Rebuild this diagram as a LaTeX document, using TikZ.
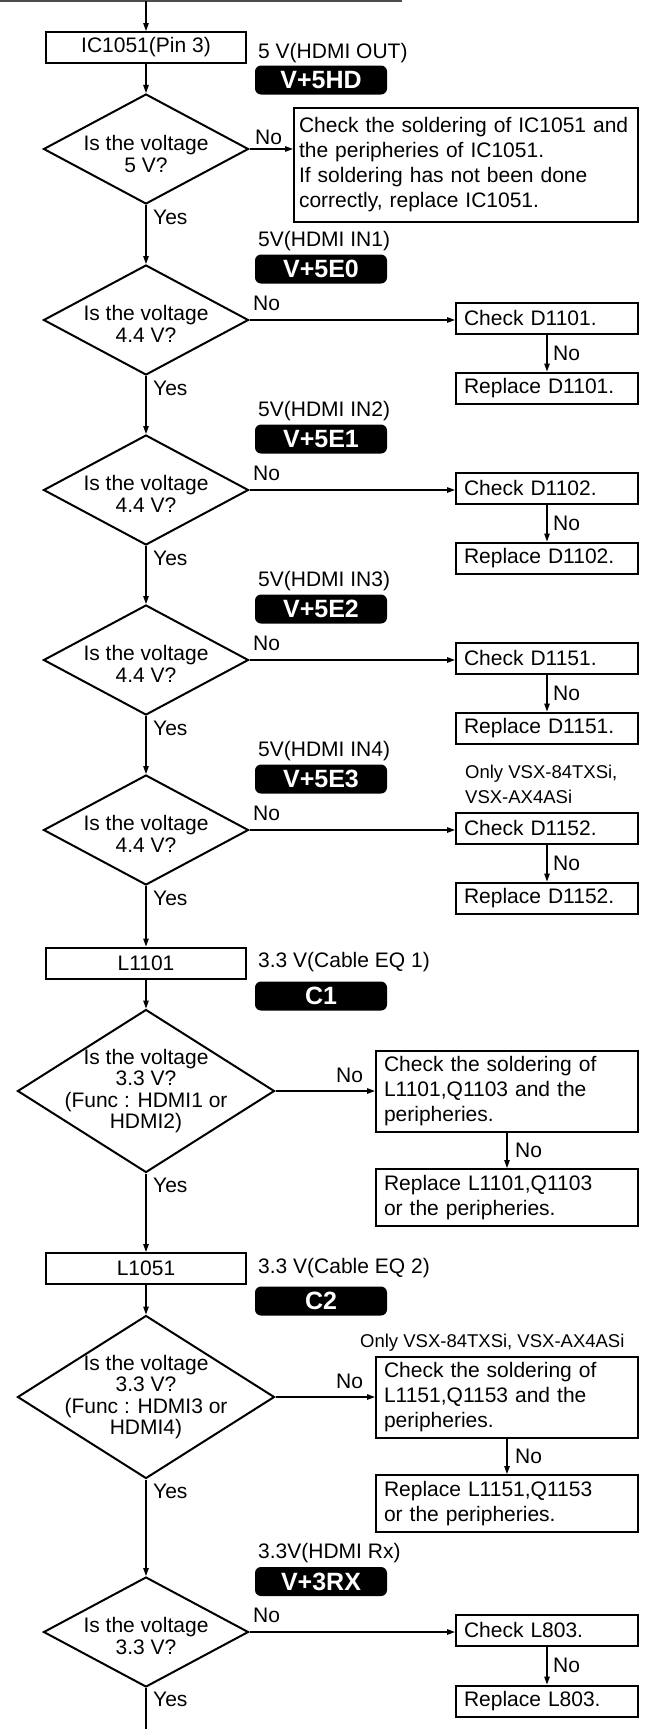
\documentclass[tikz,border=0pt]{standalone}
\usepackage{fontspec}
\setmainfont{Liberation Sans}
\usetikzlibrary{arrows.meta, shapes.geometric}

\begin{document}
\begin{tikzpicture}[x=1pt, y=-1pt, font=\fontsize{21}{25}\selectfont,
  >={Triangle[length=8pt, width=5.5pt]},
  bx/.style={draw, line width=2pt, inner xsep=8pt, inner ysep=0pt, align=left},
  chk/.style={bx, text width=166pt, minimum height=31pt},
  chkw/.style={bx, text width=246pt},
  src/.style={draw, line width=2pt, minimum width=200pt, minimum height=31pt, inner sep=0pt},
  dia/.style={diamond, draw, line width=2pt, inner sep=0pt,
              minimum width=205pt, minimum height=110pt},
  diab/.style={dia, minimum width=257pt, minimum height=163pt},
  dtx/.style={align=center, inner sep=0pt, font=\fontsize{21}{21.5}\selectfont},
  tag/.style={fill=black, rounded corners=6pt, text=white, inner sep=0pt,
              minimum width=132pt, minimum height=29pt,
              font=\fontsize{25}{25}\selectfont\bfseries},
  lbl/.style={anchor=west, inner sep=0pt},
  note/.style={lbl, align=left, font=\fontsize{18.5}{25}\selectfont},
  s/.style={->, line width=1.2pt}]
\useasboundingbox (0,0) rectangle (659,1729);
% entry line
\coordinate (topl) at (0,1);
\coordinate (topr) at (402,1);
\coordinate (top) at (146,1);
\draw[line width=1.2pt, black!70] (topl) -- (topr);
% 5 V HDMI out
\node[src] (ic) at (146,47.5) {IC1051(Pin 3)};
\node[lbl] (vout) at (258,53) {5 V(HDMI OUT)};
\node[tag] (t0) at (321,80) {V+5HD};
\node[dia] (q1) at (146,149) {};
\node[dtx] (q1t) at (146,154) {Is the voltage\\5 V?};
\node[lbl] (n1) at (255,137) {No};
\node[bx, inner xsep=5pt, text width=334pt, minimum height=114pt] (b1) at (466,165)
  {Check the soldering of IC1051 and\\the peripheries of IC1051.\\If soldering has not been done\\correctly, replace IC1051.};
\node[lbl] (y1) at (153,217) {Yes};
% HDMI IN1
\node[lbl] (in1) at (258,241) {5V(HDMI IN1)};
\node[tag] (t1) at (321,269) {V+5E0};
\node[dia] (q2) at (146,320) {};
\node[dtx] (q2t) at (146,324) {Is the voltage\\4.4 V?};
\node[lbl] (n2) at (253,303) {No};
\node[chk] (c2) at (547,318) {Check D1101.};
\node[chk] (r2) at (547,388) {Replace D1101.};
\node[lbl] (m2) at (553,353) {No};
\node[lbl] (y2) at (153,388) {Yes};
% HDMI IN2
\node[lbl] (in2) at (258,411) {5V(HDMI IN2)};
\node[tag] (t2) at (321,439) {V+5E1};
\node[dia] (q3) at (146,490) {};
\node[dtx] (q3t) at (146,494) {Is the voltage\\4.4 V?};
\node[lbl] (n3) at (253,473) {No};
\node[chk] (c3) at (547,488) {Check D1102.};
\node[chk] (r3) at (547,558) {Replace D1102.};
\node[lbl] (m3) at (553,523) {No};
\node[lbl] (y3) at (153,558) {Yes};
% HDMI IN3
\node[lbl] (in3) at (258,581) {5V(HDMI IN3)};
\node[tag] (t3) at (321,609) {V+5E2};
\node[dia] (q4) at (146,660) {};
\node[dtx] (q4t) at (146,664) {Is the voltage\\4.4 V?};
\node[lbl] (n4) at (253,643) {No};
\node[chk] (c4) at (547,658) {Check D1151.};
\node[chk] (r4) at (547,728) {Replace D1151.};
\node[lbl] (m4) at (553,693) {No};
\node[lbl] (y4) at (153,728) {Yes};
% HDMI IN4
\node[lbl] (in4) at (258,751) {5V(HDMI IN4)};
\node[tag] (t4) at (321,779) {V+5E3};
\node[note] (o4) at (465,784.5) {Only VSX-84TXSi,\\VSX-AX4ASi};
\node[dia] (q5) at (146,830) {};
\node[dtx] (q5t) at (146,834) {Is the voltage\\4.4 V?};
\node[lbl] (n5) at (253,813) {No};
\node[chk] (c5) at (547,828) {Check D1152.};
\node[chk] (r5) at (547,898) {Replace D1152.};
\node[lbl] (m5) at (553,863) {No};
\node[lbl] (y5) at (153,898) {Yes};
% cable EQ 1
\node[src] (l1) at (146,963) {L1101};
\node[lbl] (eq1) at (258,962) {3.3 V(Cable EQ 1)};
\node[tag] (tc1) at (321,996) {C1};
\node[diab] (q6) at (146,1091) {};
\node[dtx] (q6t) at (146,1091) {Is the voltage\\3.3 V?\\(Func : HDMI1 or\\HDMI2)};
\node[lbl] (n6) at (336,1075) {No};
\node[chkw, minimum height=81pt] (c6) at (507,1091.5) {Check the soldering of\\L1101,Q1103 and the\\peripheries.};
\node[chkw, minimum height=57pt] (r6) at (507,1197.5) {Replace L1101,Q1103\\or the peripheries.};
\node[lbl] (m6) at (515,1150) {No};
\node[lbl] (y6) at (153,1185) {Yes};
% cable EQ 2
\node[src] (l2) at (146,1268.5) {L1051};
\node[lbl] (eq2) at (258,1268) {3.3 V(Cable EQ 2)};
\node[tag] (tc2) at (321,1301) {C2};
\node[diab] (q7) at (146,1397) {};
\node[dtx] (q7t) at (146,1397) {Is the voltage\\3.3 V?\\(Func : HDMI3 or\\HDMI4)};
\node[note] (o7) at (360,1343) {Only VSX-84TXSi, VSX-AX4ASi};
\node[lbl] (n7) at (336,1381) {No};
\node[chkw, minimum height=81pt] (c7) at (507,1397) {Check the soldering of\\L1151,Q1153 and the\\peripheries.};
\node[chkw, minimum height=57pt] (r7) at (507,1503.5) {Replace L1151,Q1153\\or the peripheries.};
\node[lbl] (m7) at (515,1456.5) {No};
\node[lbl] (y7) at (153,1491) {Yes};
% HDMI Rx
\node[lbl] (rx) at (258,1553) {3.3V(HDMI Rx)};
\node[tag] (t8) at (321,1581.5) {V+3RX};
\node[dia] (q8) at (146,1632) {};
\node[dtx] (q8t) at (146,1636) {Is the voltage\\3.3 V?};
\node[lbl] (n8) at (253,1615) {No};
\node[chk] (c8) at (547,1630) {Check L803.};
\node[chk] (r8) at (547,1701) {Replace L803.};
\node[lbl] (m8) at (553,1665.5) {No};
\node[lbl] (y8) at (153,1699) {Yes};
\coordinate (bot) at (146,1729);
% main chain (Yes)
\draw[s] (top) -- (ic); \draw[s] (ic) -- (q1);
\draw[s] (q1.south) -- (q2.north); \draw[s] (q2.south) -- (q3.north);
\draw[s] (q3.south) -- (q4.north); \draw[s] (q4.south) -- (q5.north);
\draw[s] (q5.south) -- (l1); \draw[s] (l1) -- (q6.north);
\draw[s] (q6.south) -- (l2); \draw[s] (l2) -- (q7.north);
\draw[s] (q7.south) -- (q8.north);
\draw[line width=1.2pt] (q8.south) -- (bot);
% No branches
\draw[s] (q1.east) -- (q1.east -| b1.west);
\draw[s] (q2.east) -- (q2.east -| c2.west); \draw[s] (c2) -- (r2);
\draw[s] (q3.east) -- (q3.east -| c3.west); \draw[s] (c3) -- (r3);
\draw[s] (q4.east) -- (q4.east -| c4.west); \draw[s] (c4) -- (r4);
\draw[s] (q5.east) -- (q5.east -| c5.west); \draw[s] (c5) -- (r5);
\draw[s] (q6.east) -- (q6.east -| c6.west); \draw[s] (c6) -- (r6);
\draw[s] (q7.east) -- (q7.east -| c7.west); \draw[s] (c7) -- (r7);
\draw[s] (q8.east) -- (q8.east -| c8.west); \draw[s] (c8) -- (r8);
\end{tikzpicture}
\end{document}
